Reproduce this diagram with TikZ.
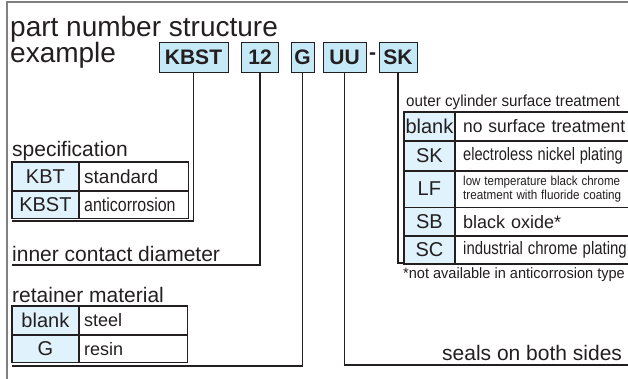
\documentclass[tikz,border=0pt]{standalone}
\usepackage{fontspec}
\setmainfont{Liberation Sans}
\usepackage{graphicx}
\definecolor{hdrblue}{HTML}{C6E9F8}
\definecolor{cellblue}{HTML}{E0F2FB}
\definecolor{ink}{HTML}{231F20}
\definecolor{framegray}{HTML}{808080}
\newcommand\fsz[1]{\fontsize{#1pt}{#1pt}\selectfont}
\tikzset{
  lbl/.style={inner sep=0pt, anchor=base west, text=ink, font=\fsz{21}},
  hbox/.style={draw=ink, fill=hdrblue, line width=1pt, minimum height=30pt, inner sep=0pt, text=ink, font=\fsz{21}\bfseries},
  conn/.style={draw=ink, line width=1.1pt},
  code/.style={draw=ink, fill=cellblue, line width=.8pt, inner sep=0pt, anchor=north west, text=ink, font=\fsz{20}},
  desc/.style={draw=ink, fill=white, line width=.8pt, inner xsep=5pt, inner ysep=0pt, anchor=north west, align=left, text=ink, font=\fsz{18}},
  tframe/.style={draw=ink, line width=1.2pt},
}
\begin{document}
\begin{tikzpicture}[x=1pt,y=-1pt]
\useasboundingbox (0,0) rectangle (628,378);
\clip (0,0) rectangle (628,378);
\fill[white] (0,0) rectangle (628,378);
% frame
\draw[framegray, line width=2pt] (7,380) -- (7,2) -- (640,2);
% title
\node[lbl, font=\fsz{28}] (t1) at (10,36) {part number structure};
\node[lbl, font=\fsz{28}] (t2) at (10,62) {example};
% header boxes
\node[hbox, minimum width=69pt] (kbst) at (193.5,57) {KBST};
\node[hbox, minimum width=37pt] (n12) at (260,57) {12};
\node[hbox, minimum width=23pt] (g) at (302.5,57) {G};
\node[hbox, minimum width=43pt] (uu) at (344.5,57) {UU};
\node[inner sep=0pt, text=ink, font=\fsz{21}\bfseries] (dash) at (372.5,56) {-};
\node[hbox, minimum width=38pt] (sk) at (398,57) {SK};
% connector ends
\coordinate (e1) at (12,221);
\coordinate (e2) at (12,265);
\coordinate (e3) at (12,366);
\coordinate (e4) at (640,365);
\coordinate (e5) at (640,263);
\draw[conn] (kbst.south) |- (e1);
\draw[conn] (n12.south) |- (e2);
\draw[conn] (g.south) |- (e3);
\draw[conn] (uu.south) |- (e4);
\draw[conn] (sk.south) |- (e5);
% specification
\node[lbl] (spec) at (12,156) {specification};
\node[code, minimum width=66pt, minimum height=28pt] (s1k) at (12,162) {KBT};
\node[desc, text width=99pt, minimum height=28pt, font=\fsz{19}] (s1d) at (s1k.north east) {standard};
\node[code, minimum width=66pt, minimum height=27pt] (s2k) at (s1k.south west) {KBST};
\node[desc, text width=99pt, minimum height=27pt, font=\fsz{19}] (s2d) at (s2k.north east) {\scalebox{.84}[1]{anticorrosion}};
\draw[tframe] (s1k.north west) rectangle (s2d.south east);
% inner contact diameter
\node[lbl] (icd) at (12,261) {inner contact diameter};
% retainer material
\node[lbl] (ret) at (12,302) {retainer material};
\node[code, minimum width=66pt, minimum height=28pt] (r1k) at (12,306) {blank};
\node[desc, text width=98pt, minimum height=28pt] (r1d) at (r1k.north east) {steel};
\node[code, minimum width=66pt, minimum height=27pt] (r2k) at (r1k.south west) {G};
\node[desc, text width=98pt, minimum height=27pt] (r2d) at (r2k.north east) {resin};
\draw[tframe] (r1k.north west) rectangle (r2d.south east);
% seals
\node[lbl] (seal) at (442,360) {seals on both sides};
% outer cylinder surface treatment
\node[lbl, font=\fsz{16}] (oc) at (406,106) {\scalebox{.95}[1]{outer cylinder surface treatment}};
\node[code, minimum width=50pt, minimum height=28pt] (o1k) at (404,112) {blank};
\node[desc, text width=190pt, minimum height=28pt, inner xsep=8pt] (o1d) at (o1k.north east) {\scalebox{.97}[1]{no surface treatment}};
\node[code, minimum width=50pt, minimum height=29pt] (o2k) at (o1k.south west) {SK};
\node[desc, text width=190pt, minimum height=29pt, inner xsep=8pt] (o2d) at (o2k.north east) {\scalebox{.81}[1]{electroless nickel plating}};
\node[code, minimum width=50pt, minimum height=36pt] (o3k) at (o2k.south west) {LF};
\node[desc, text width=190pt, minimum height=36pt, inner xsep=8pt, font=\fontsize{13pt}{14pt}\selectfont] (o3d) at (o3k.north east) {\scalebox{.89}[1]{low temperature black chrome}\\\scalebox{.9}[1]{treatment with fluoride coating}};
\node[code, minimum width=50pt, minimum height=28pt] (o4k) at (o3k.south west) {SB};
\node[desc, text width=190pt, minimum height=28pt, inner xsep=8pt] (o4d) at (o4k.north east) {black oxide*};
\node[code, minimum width=50pt, minimum height=27pt] (o5k) at (o4k.south west) {SC};
\node[desc, text width=190pt, minimum height=27pt, inner xsep=8pt] (o5d) at (o5k.north east) {\scalebox{.83}[1]{industrial chrome plating}};
\draw[tframe] (o1k.north west) rectangle (o5d.south east);
\node[lbl, font=\fsz{15}] (fn) at (403,278) {\scalebox{.97}[1]{*not available in anticorrosion type}};
\end{tikzpicture}
\end{document}
